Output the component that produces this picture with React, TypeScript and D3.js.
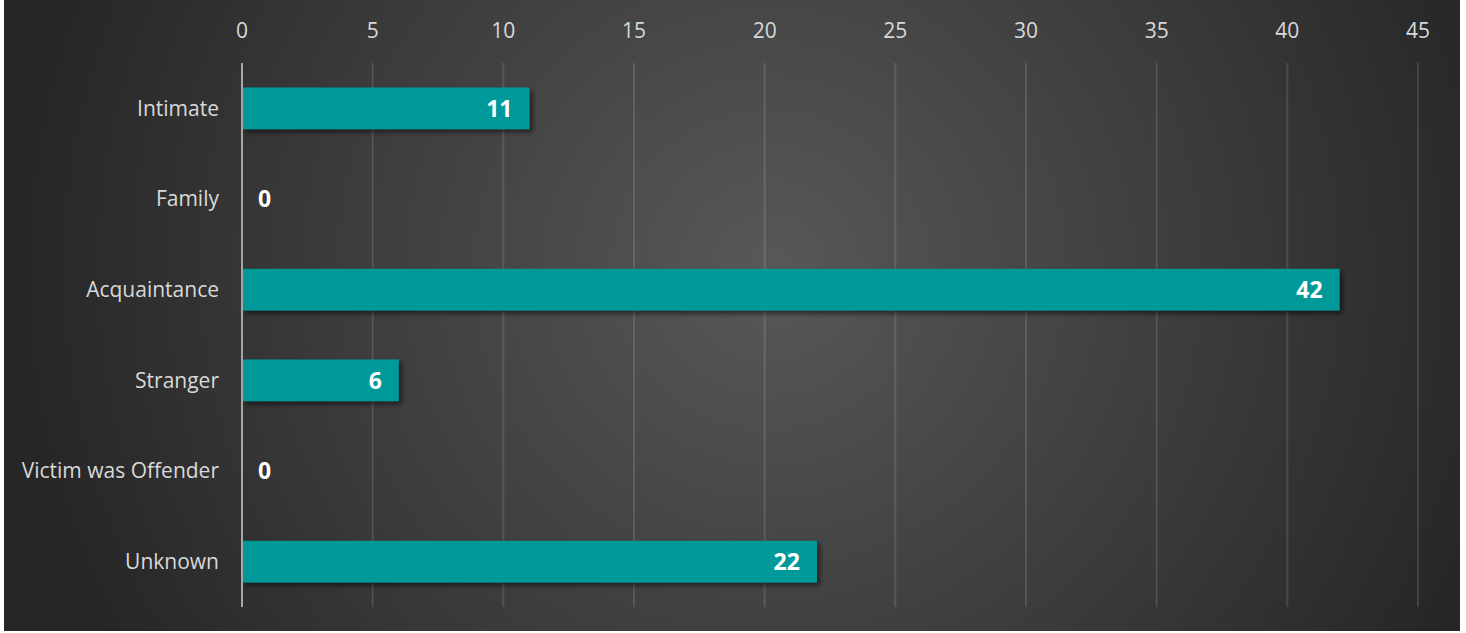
import { useRef, useEffect } from 'react';
import * as d3 from 'd3';

const categories = ['Intimate', 'Family', 'Acquaintance', 'Stranger', 'Victim was Offender', 'Unknown'];
const values = [11, 0, 42, 6, 0, 22];
const tickValues = [0, 5, 10, 15, 20, 25, 30, 35, 40, 45];

const width = 1466;
const height = 633;

export default function App() {
  const svgRef = useRef<SVGSVGElement>(null);

  useEffect(() => {
    document.body.style.margin = '0';
    const svg = d3.select(svgRef.current);
    svg.selectAll('*').remove();

    const defs = svg.append('defs');
    const grad = defs.append('radialGradient')
      .attr('id', 'bg')
      .attr('gradientUnits', 'userSpaceOnUse')
      .attr('cx', 770).attr('cy', 270).attr('r', 760);
    grad.append('stop').attr('offset', '0%').attr('stop-color', '#585858');
    grad.append('stop').attr('offset', '100%').attr('stop-color', '#262626');

    const shadow = defs.append('filter').attr('id', 'shadow')
      .attr('x', '-10%').attr('y', '-20%').attr('width', '130%').attr('height', '160%');
    shadow.append('feDropShadow')
      .attr('dx', 3).attr('dy', 3).attr('stdDeviation', 2.5)
      .attr('flood-color', '#000').attr('flood-opacity', 0.55);

    svg.append('rect')
      .attr('x', 4).attr('y', 0).attr('width', 1456).attr('height', 631)
      .attr('fill', 'url(#bg)');

    const x = d3.scaleLinear().domain([0, 45]).range([242, 1418]);
    const y = d3.scaleBand().domain(categories).range([63, 607]).paddingInner(0.54).paddingOuter(0.27);

    // grid lines
    svg.append('g')
      .selectAll('line')
      .data(tickValues.slice(1))
      .enter()
      .append('line')
      .attr('x1', d => x(d)).attr('x2', d => x(d))
      .attr('y1', 63).attr('y2', 607)
      .attr('stroke', '#ffffff').attr('stroke-opacity', 0.12).attr('stroke-width', 2);

    // tick labels
    svg.append('g')
      .selectAll('text')
      .data(tickValues)
      .enter()
      .append('text')
      .attr('x', d => x(d))
      .attr('y', 38)
      .attr('text-anchor', 'middle')
      .attr('fill', '#d9d9d9')
      .attr('font-family', 'Open Sans, sans-serif')
      .attr('font-size', 21)
      .text(d => d);

    // category labels
    svg.append('g')
      .selectAll('text')
      .data(categories)
      .enter()
      .append('text')
      .attr('x', 219)
      .attr('y', d => (y(d) as number) + y.bandwidth() / 2)
      .attr('dy', '0.35em')
      .attr('text-anchor', 'end')
      .attr('fill', '#d9d9d9')
      .attr('font-family', 'Open Sans, sans-serif')
      .attr('font-size', 21)
      .text(d => d);

    // bars
    svg.append('g')
      .selectAll('rect')
      .data(values.map((v, i) => ({ v, c: categories[i] })).filter(d => d.v > 0))
      .enter()
      .append('rect')
      .attr('x', x(0))
      .attr('y', d => y(d.c) as number)
      .attr('width', d => x(d.v) - x(0))
      .attr('height', y.bandwidth())
      .attr('fill', '#009999')
      .attr('filter', 'url(#shadow)');

    // axis line
    svg.append('line')
      .attr('x1', x(0)).attr('x2', x(0))
      .attr('y1', 63).attr('y2', 607)
      .attr('stroke', '#a6a6a6').attr('stroke-width', 2);

    // value labels
    svg.append('g')
      .selectAll('text')
      .data(values)
      .enter()
      .append('text')
      .attr('x', d => d > 0 ? x(d) - 17 : x(0) + 16)
      .attr('y', (d, i) => (y(categories[i]) as number) + y.bandwidth() / 2)
      .attr('dy', '0.36em')
      .attr('text-anchor', d => d > 0 ? 'end' : 'start')
      .attr('fill', '#ffffff')
      .attr('font-family', 'Open Sans, sans-serif')
      .attr('font-weight', 'bold')
      .attr('font-size', 23)
      .text(d => d);
  }, []);

  return (
    <div>
      <svg ref={svgRef} width={width} height={height} style={{ display: 'block' }}></svg>
    </div>
  );
}
